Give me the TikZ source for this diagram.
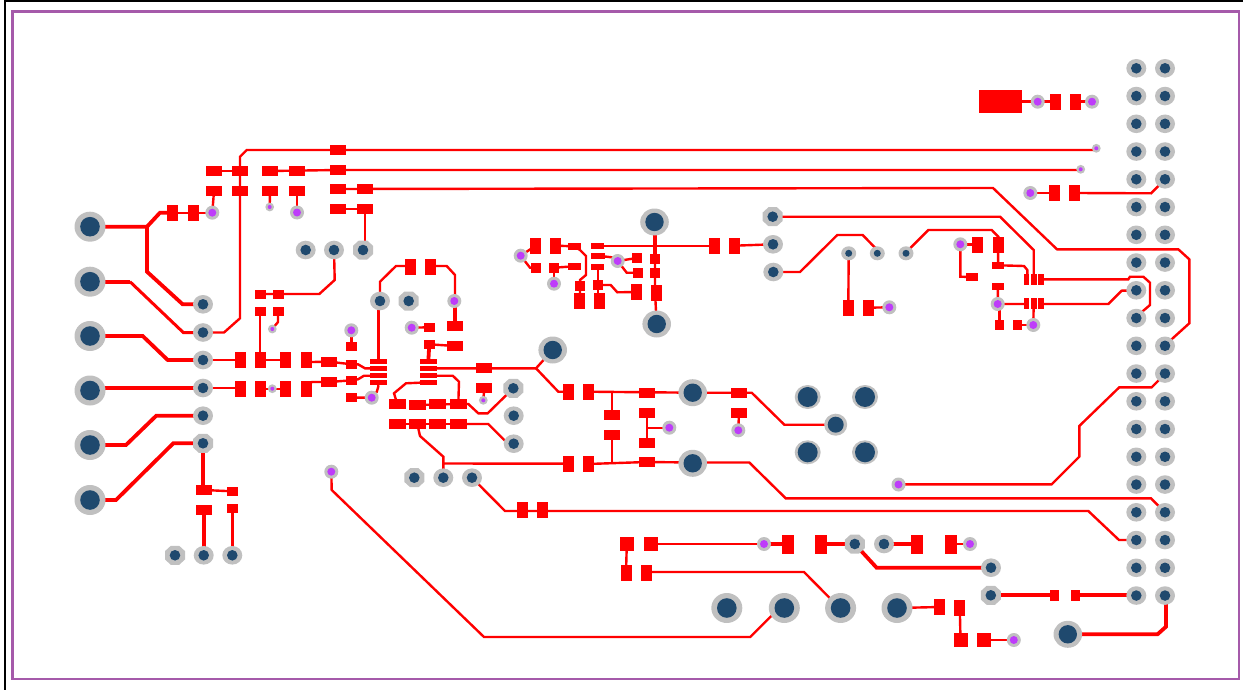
\documentclass[tikz,border=0pt]{standalone}
\definecolor{trace}{RGB}{255,0,0}
\definecolor{pad}{RGB}{192,192,192}
\definecolor{drill}{RGB}{31,73,110}
\definecolor{viahole}{RGB}{190,60,250}
\definecolor{frame}{RGB}{165,90,170}
\tikzset{tr/.style={draw=trace,line width=2.4pt,line join=miter},trb/.style={draw=trace,line width=3.8pt}}
\newcommand{\smd}[4]{\fill[trace] ({#1-#3/2},{#2-#4/2}) rectangle ({#1+#3/2},{#2+#4/2});}
\newcommand{\hole}[6]{\fill[pad] (#1,#2) ellipse [x radius=#3,y radius=#4];\fill[#5] (#1,#2) circle [radius=#6];}
\newcommand{\tp}[2]{\hole{#1}{#2}{10}{9.3}{drill}{5.3}}
\newcommand{\bigp}[2]{\hole{#1}{#2}{15.5}{15}{drill}{9.8}}
\newcommand{\midp}[2]{\hole{#1}{#2}{14.3}{13.5}{drill}{9.2}}
\newcommand{\via}[2]{\hole{#1}{#2}{7}{7}{viahole}{4}}
\newcommand{\svia}[2]{\hole{#1}{#2}{4.4}{4.4}{viahole}{2}}
\newcommand{\mnt}[2]{\fill[pad] (#1,#2) ellipse [x radius=13,y radius=12];\fill[drill] (#1,#2) circle [radius=10];}
\newcommand{\octp}[2]{\fill[pad,rounded corners=0pt] ({#1-10},{#2-4.2}) -- ({#1-4.2},{#2-9.5}) -- ({#1+4.2},{#2-9.5}) -- ({#1+10},{#2-4.2}) -- ({#1+10},{#2+4.2}) -- ({#1+4.2},{#2+9.5}) -- ({#1-4.2},{#2+9.5}) -- ({#1-10},{#2+4.2}) -- cycle;\fill[drill] (#1,#2) circle [radius=5.3];}
\begin{document}
\begin{tikzpicture}[x=1pt,y=-1pt]
\useasboundingbox (0,0) rectangle (1243,690);
% frames
\draw[black,line width=1.8pt] (4.8,690) -- (4.8,1.2) -- (1243,1.2);
\draw[frame,line width=2.7pt] (12.5,11.5) rectangle (1239,679);
% traces thin
\draw[tr] (183.3,332.5) -- (224,332.5) -- (240,318.3) -- (240,171);
\draw[tr] (240,171) -- (240,156.7) -- (246.7,150) -- (1096.3,150);
\draw[tr] (214,171) -- (240,171);
\draw[tr] (270,171) -- (338,170) -- (1080.7,170);
\draw[tr] (338,189) -- (993,188) -- (1057,249.3) -- (1178.3,249.3) -- (1189.3,259.3) -- (1189.3,323.3) -- (1172.7,338.3) -- (1165,346);
\draw[tr] (338,209) -- (365,209) -- (365,250);
\draw[tr] (334,250) -- (334.7,280) -- (319.3,294) -- (260,294);
\draw[tr] (260,311) -- (260,360);
\draw[tr] (278,311) -- (278,322) -- (272.3,329);
\draw[tr] (270,191) -- (269.7,207);
\draw[tr] (297,191) -- (297,212.5);
\draw[tr] (214,191) -- (212.3,212.7);
\draw[tr] (178,212.7) -- (212,212.7);
\draw[tr] (351.3,330.3) -- (351.3,346.3);
\draw[tr] (203,360) -- (240,360);
\draw[tr] (260,360) -- (285,360);
\draw[tr] (306,360) -- (312,362) -- (329,361.7) -- (351.7,364.3) -- (358,364.3) -- (365,368.3) -- (378,368.3);
\draw[tr] (203,388) -- (240,388);
\draw[tr] (260,389) -- (285,389);
\draw[tr] (306,386) -- (312,382) -- (329,382) -- (351.7,380.3) -- (358,379.3) -- (364,375.7) -- (378,375.7);
\draw[tr] (378,382) -- (378.3,386.7) -- (376.7,392) -- (371.7,397.7);
\draw[tr] (351.7,397.5) -- (371.7,397.7);
\draw[tr] (378.3,301) -- (378.3,361.7);
\draw[tr] (380,301) -- (380,281.7) -- (396,266) -- (410,266);
\draw[tr] (430,266) -- (446.7,266) -- (455,275) -- (455,301);
\draw[trb] (455,301) -- (455,326);
\draw[tr] (411.7,327.7) -- (429.3,327.3);
\draw[tr] (429.3,344.3) -- (455,346);
\draw[trb] (429.3,344) -- (428.3,361.7);
\draw[tr] (428.3,368.3) -- (536,368.3) -- (552.7,350);
\draw[tr] (536,368.3) -- (558.3,391.7) -- (568,391.7);
\draw[tr] (588,391.7) -- (692.7,392.7) -- (751.7,392.7) -- (784.3,424.7) -- (835.7,424.7);
\draw[tr] (612,391.7) -- (612,415);
\draw[tr] (612,435) -- (612,464);
\draw[tr] (443.3,477.7) -- (443.3,463.5) -- (568,463.7);
\draw[tr] (588,464) -- (646.7,462) -- (692.7,462.5) -- (749.3,462.5) -- (785.7,498.3) -- (1151,498.3) -- (1158.3,505.7) -- (1165,512.3);
\draw[tr] (646.7,412.7) -- (646.7,442.7);
\draw[tr] (646.7,427.7) -- (669.3,427.7);
\draw[tr] (739,412.7) -- (738.3,430.3);
\draw[tr] (443.3,463.5) -- (443.3,456.7) -- (420,436) -- (417.3,424);
\draw[tr] (397.3,424) -- (458.3,424);
\draw[tr] (458.3,424) -- (488.3,424) -- (505,440.7) -- (513.7,443.7);
\draw[tr] (397.3,404) -- (394,393.3) -- (406,383.3) -- (428.3,382.3);
\draw[tr] (428.3,375.7) -- (452.7,375.7) -- (459,381.7) -- (458.3,404);
\draw[tr] (417.3,405) -- (458.3,404) -- (468.3,404) -- (478.3,413.3) -- (487.7,413.3) -- (505.7,395.7) -- (513.3,388.3);
\draw[tr] (484.3,388) -- (483.3,400.3);
% right-top cluster
\draw[tr] (772.7,216.7) -- (1000,216.7) -- (1033.7,250) -- (1033.7,279.3);
\draw[tr] (773.3,272) -- (800,272) -- (837.3,235) -- (862.7,235) -- (875,247.7) -- (877.3,253.3);
\draw[tr] (906,253.3) -- (910.7,247.7) -- (928.3,230) -- (991.7,230) -- (998.3,236.7) -- (998.3,245);
\draw[tr] (848.7,253.3) -- (848.3,307.7);
\draw[tr] (868.3,307.7) -- (889.3,307.3);
\draw[tr] (960.3,244.3) -- (977.7,244.3);
\draw[tr] (960.3,244.3) -- (960.3,276.7) -- (972,277);
\draw[tr] (998.3,245) -- (998,265.3) -- (1024,266) -- (1027.3,270) -- (1027.3,279.3);
\draw[tr] (1041,279.3) -- (1128.3,279.3) -- (1130,276.7) -- (1143.3,276.7) -- (1150,282.7) -- (1150,305) -- (1143.3,310.7) -- (1136.3,318);
\draw[tr] (998,286.7) -- (997.7,304) -- (1026.7,304);
\draw[tr] (1041,304) -- (1108.3,304) -- (1121.7,290.7) -- (1136.3,290.3);
\draw[tr] (999.3,304) -- (999.3,325);
\draw[tr] (1017.3,325) -- (1033.3,325);
\draw[tr] (1033.7,303.7) -- (1033.3,325);
% centre cluster
\draw[tr] (520.7,255.7) -- (535.7,245.7);
\draw[tr] (520.7,255.7) -- (530,267.7) -- (535.7,267.7);
\draw[tr] (555.7,245.7) -- (574,246.3) -- (580,250) -- (586,256) -- (586,275) -- (580,280) -- (580,300);
\draw[tr] (554,267.7) -- (574,266.3);
\draw[tr] (554,267.7) -- (554,283.7);
\draw[tr] (597.7,246) -- (714.3,246);
\draw[tr] (734.3,245.7) -- (773,244.3);
\draw[tr] (598,266.7) -- (598,300);
\draw[tr] (598,285) -- (610.7,285) -- (617.3,292.3) -- (636.7,292);
\draw[tr] (597.7,255.7) -- (611.7,257.3) -- (617.7,261) -- (637,258);
\draw[tr] (617.7,261) -- (626.7,272.7) -- (637.7,272.7);
\draw[trb] (655,222) -- (655,258.7);
\draw[tr] (655,258) -- (655,292) -- (656.7,324);
% bottom
\draw[tr] (472,477.7) -- (505,511) -- (1088.3,511) -- (1119,540) -- (1137,540);
\draw[tr] (626.8,544) -- (626,573);
\draw[tr] (651,544) -- (788,544);
\draw[trb] (764,544) -- (788,544);
\draw[trb] (821,544) -- (854.8,544);
\draw[trb] (884,544) -- (917,544);
\draw[tr] (951.3,544) -- (970,544);
\draw[tr] (646.4,572) -- (804,572) -- (830,598.3);
\draw[tr] (784.3,608) -- (770.5,616.7) -- (750.2,637) -- (484,637) -- (331.7,490) -- (331.3,471.7);
\draw[tr] (897,608) -- (939.8,607);
\draw[tr] (959.8,608) -- (960.5,640);
\draw[tr] (984.3,640) -- (1013.8,640);
\draw[trb] (854.8,544) -- (876.6,567.7) -- (991,567.7);
\draw[trb] (990.8,595.3) -- (1054.8,595.3);
\draw[trb] (1075,595.3) -- (1137,595.3);
\draw[trb] (1166,595.6) -- (1166,626.7) -- (1157.5,634.3) -- (1067.8,634.3);
% top right
\draw[tr] (1022,101.7) -- (1037.7,101.7) -- (1055.7,101.7);
\draw[tr] (1075.7,101.7) -- (1092,101.7);
\draw[tr] (1030.3,193) -- (1054.7,193);
\draw[tr] (1074.7,193) -- (1151,193.3) -- (1158.3,186) -- (1165,179.5);
% via trace to header
\draw[tr] (898.5,484.3) -- (1051.7,484.3) -- (1079.3,456.7) -- (1079.3,426) -- (1119.3,387.3) -- (1151.7,387.3) -- (1158.3,380.7) -- (1165,373.6);
% left
\draw[trb] (90,226.7) -- (147,226.7) -- (160,212.7) -- (172,212.7);
\draw[trb] (147,226.7) -- (147,271.7) -- (182.7,304.3) -- (203,304.3);
\draw[trb] (90,281.7) -- (130,281.7);
\draw[tr,line width=3pt] (130,281.7) -- (183.3,332.5) -- (203,332.5);
\draw[trb] (90,336) -- (142.7,336) -- (167.7,360) -- (203,360);
\draw[trb] (90,388) -- (203,388);
\draw[trb] (90,445) -- (126,445) -- (156.3,415.7) -- (203,415.7);
\draw[trb] (90,500) -- (116,500) -- (173.3,443.3) -- (203,443.3);
\draw[trb] (203,443.3) -- (203,490);
\draw[tr] (204,490) -- (232.3,491.3);
\draw[trb] (204,510) -- (204,555.3);
\draw[tr] (232.3,508.3) -- (232.3,555.3);
% pads
\smd{172.5}{212.7}{11}{16}\smd{193.5}{212.7}{11}{16}
\foreach \x in {214,240,270,297}{\smd{\x}{171}{16}{10}\smd{\x}{191}{16}{10}}
\smd{338}{150}{16}{10}\smd{338}{170}{16}{10}\smd{338}{189}{16}{10}\smd{365}{189}{16}{10}\smd{338}{209}{16}{10}\smd{365}{209}{16}{10}
\smd{260.3}{294.3}{11}{9}\smd{278.3}{294.3}{11}{9}\smd{260.3}{311.3}{11}{9}\smd{278.3}{311.3}{11}{9}
\foreach \x in {240.3,260.3,285.3,306.3}{\smd{\x}{360}{11}{16}\smd{\x}{389}{11}{16}}
\smd{329}{361.7}{16}{10}\smd{329}{382}{16}{10}
\smd{351.7}{346.3}{11}{9}\smd{351.7}{364.3}{11}{9}\smd{351.7}{380.3}{11}{9}\smd{351.7}{397.3}{11}{9}
\foreach \y in {361.7,368.3,375.7,382.3}{\smd{378.3}{\y}{17}{5}\smd{428.3}{\y}{17}{5}}
\smd{410.3}{266.7}{11}{16}\smd{430.3}{266.7}{11}{16}
\smd{455}{326}{16}{10}\smd{455}{346}{16}{10}\smd{429.3}{327.3}{11}{9}\smd{429.3}{344.3}{11}{9}
\smd{484.3}{368}{16}{10}\smd{484.3}{388}{16}{10}
\foreach \x in {397.3,437.3,458.3}{\smd{\x}{404}{17}{10}}\smd{417.3}{405}{17}{10}
\foreach \x in {397.3,417.3,437.3,458.3}{\smd{\x}{424}{17}{10}}
\smd{204}{490}{16}{10}\smd{204}{510}{16}{10}\smd{232.3}{491.3}{11}{9}\smd{232.3}{508.3}{11}{9}
\smd{535.7}{245.7}{11}{16}\smd{555.7}{245.7}{11}{16}\smd{574.3}{246.3}{13}{7}\smd{574}{266.3}{13}{7}
\smd{597.7}{246}{13}{6}\smd{597.7}{255.7}{14}{6}\smd{597.7}{266.7}{13}{6}
\smd{535.7}{267.7}{10}{10}\smd{554}{267.7}{10}{10}
\smd{637}{257.7}{10}{10}\smd{637.7}{272.7}{10}{10}\smd{655}{258.7}{10}{10}\smd{655}{272.7}{10}{10}
\smd{580}{286}{10}{10}\smd{598}{285}{10}{10}\smd{579.3}{300.7}{11}{16}\smd{599.3}{300.7}{11}{16}\smd{636.7}{291.7}{11}{16}\smd{656.3}{292.7}{11}{16}
\smd{714.3}{245.7}{11}{16}\smd{734.3}{245.7}{11}{16}
\smd{568.3}{391.7}{11}{16}\smd{588.3}{391.7}{11}{16}\smd{568.3}{464}{11}{16}\smd{588.3}{464}{11}{16}
\smd{612}{415}{16}{10}\smd{612}{435}{16}{10}
\smd{646.7}{392.7}{16}{10}\smd{646.7}{412.7}{16}{10}\smd{646.7}{442.7}{16}{10}\smd{646.7}{462}{16}{10}
\smd{739}{392.7}{16}{10}\smd{739}{412.7}{16}{10}
\smd{522.3}{510}{11}{16}\smd{542.3}{510}{11}{16}
\smd{626.8}{544}{14}{14}\smd{651}{544}{14}{14}\smd{788}{544}{12}{19}\smd{821}{544}{12}{19}\smd{917}{544}{12}{19}\smd{951.3}{544}{12}{19}
\smd{626}{573}{11}{16}\smd{646.4}{573}{11}{16}
\smd{939.8}{607}{11}{16}\smd{959.8}{608}{11}{16}\smd{960.5}{640}{14}{14}\smd{984.3}{640}{14}{14}
\smd{1054.8}{595.3}{9}{11}\smd{1075}{595.3}{9}{11}
\smd{848.3}{307.7}{11}{16}\smd{868.3}{307.7}{11}{16}
\smd{977.7}{245}{11}{16}\smd{998.3}{245}{11}{16}\smd{972}{277}{12}{8}\smd{998}{265.3}{12}{7}\smd{998}{286.7}{12}{7}
\foreach \x/\w in {1026.7/5,1033.7/6,1041/6}{\smd{\x}{279.3}{\w}{11}\smd{\x}{303.7}{\w}{11}}
\smd{999.3}{325}{9}{10}\smd{1017.3}{325}{9}{10}
\smd{1000.5}{101.4}{43}{22.7}\smd{1055.7}{101.7}{11}{16}\smd{1075.7}{101.7}{11}{16}
\smd{1054.7}{193}{11}{16}\smd{1074.7}{193}{11}{16}
% big pads
\foreach \y in {226.7,281.7,336,390.5,445,500}{\bigp{90}{\y}}
\foreach \x in {726.8,784.3,840.6,897}{\bigp{\x}{608}}
\midp{1067.8}{634.3}
\midp{552.7}{350}\midp{692.7}{392.7}\midp{692.7}{463.3}\midp{654.5}{222}\midp{656.7}{324}
\mnt{807.7}{397}\mnt{865}{397}\mnt{807.7}{452.3}\mnt{865}{452.3}
\hole{835.7}{424.7}{11.5}{11}{drill}{8}
% through pads
\foreach \y in {304.3,332.5,360,388,415.7}{\tp{203}{\y}}
\octp{203}{443.3}\octp{175}{555.3}\tp{203.7}{555.3}\tp{232.3}{555.3}
\tp{305.7}{250}\tp{334}{250}\octp{363}{250}
\tp{380}{301}\octp{408.7}{301}
\octp{513.3}{388.3}\tp{513.7}{415.7}\tp{513.7}{443.7}
\octp{414.3}{477.7}\tp{443.3}{477.7}\tp{472}{477.7}
\octp{772.7}{216.7}\tp{773}{244.3}\tp{773.3}{272}
\octp{854.8}{544}\tp{884}{544}\tp{991}{567.7}\octp{990.8}{595.3}
\hole{848.7}{253.3}{7.5}{7}{drill}{3.5}\hole{877.3}{253.3}{7.5}{7}{drill}{3.5}\hole{906}{253.3}{7.5}{7}{drill}{3.5}
\foreach \k in {0,...,19}{\pgfmathsetmacro{\yy}{68.3+27.75*\k}\tp{1136.3}{\yy}\tp{1165}{\yy}}
% vias
\foreach \x/\y in {212.3/212.7,297/212.5,351.3/330.3,371.7/397.7,331.3/471.7,411.7/327.7,454.3/301,520.7/255.7,554/283.7,617.7/261,669.3/427.7,738.3/430.3,898.5/484.5,889.3/307.3,960.3/244.3,997.7/304,1033.3/325,1030.3/193,1037.7/101.7,1092/101.7,764/544,970/544,1013.8/640}{\via{\x}{\y}}
\foreach \x/\y in {269.7/207,272.3/329,272.3/388.7,483.3/400.3,1096.3/148.3,1080.7/169.3}{\svia{\x}{\y}}
\end{tikzpicture}
\end{document}
